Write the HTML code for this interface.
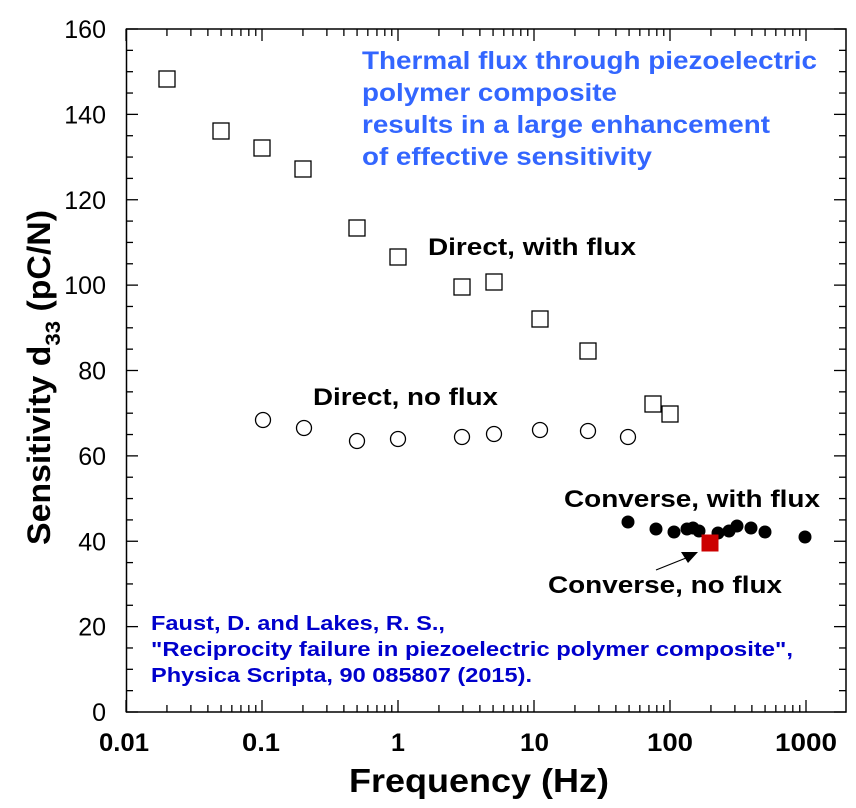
<!DOCTYPE html>
<html><head><meta charset="utf-8"><style>
html,body{margin:0;padding:0;background:#fff}
svg{display:block}
text{font-family:"Liberation Sans",Arial,sans-serif}
</style></head><body>
<svg width="856" height="808" viewBox="0 0 856 808" xmlns="http://www.w3.org/2000/svg">
<g stroke="#000" stroke-width="1.5" fill="none">
<rect x="126.5" y="29" width="719.5" height="683"/>
</g>
<g id="ticks" stroke="#000" stroke-width="1.3"></g>
<g font-size="25" fill="#000" text-anchor="end" id="ylab"></g>
<g font-size="25" font-weight="bold">
<text x="99" y="751" textLength="50" lengthAdjust="spacingAndGlyphs">0.01</text>
<text x="242" y="751" textLength="38" lengthAdjust="spacingAndGlyphs">0.1</text>
<text x="391" y="751">1</text>
<text x="520" y="751" textLength="29" lengthAdjust="spacingAndGlyphs">10</text>
<text x="647" y="751" textLength="46" lengthAdjust="spacingAndGlyphs">100</text>
<text x="775" y="751" textLength="62" lengthAdjust="spacingAndGlyphs">1000</text>
</g>
<text x="349" y="792" font-size="33" font-weight="bold" textLength="260" lengthAdjust="spacingAndGlyphs">Frequency (Hz)</text>
<text transform="translate(50,545) rotate(-90)" font-size="32" font-weight="bold" textLength="335" lengthAdjust="spacingAndGlyphs">Sensitivity d<tspan font-size="21" dy="10">33</tspan><tspan dy="-10"> (pC/N)</tspan></text>
<g fill="#3366ff" font-size="25" font-weight="bold">
<text x="362" y="69" textLength="455" lengthAdjust="spacingAndGlyphs">Thermal flux through piezoelectric</text>
<text x="362" y="101" textLength="255" lengthAdjust="spacingAndGlyphs">polymer composite</text>
<text x="362" y="133" textLength="408" lengthAdjust="spacingAndGlyphs">results in a large enhancement</text>
<text x="362" y="165" textLength="290" lengthAdjust="spacingAndGlyphs">of effective sensitivity</text>
</g>
<g fill="#000" font-size="24" font-weight="bold">
<text x="428" y="255" textLength="208" lengthAdjust="spacingAndGlyphs">Direct, with flux</text>
<text x="313" y="405" textLength="185" lengthAdjust="spacingAndGlyphs">Direct, no flux</text>
<text x="564" y="507" textLength="256" lengthAdjust="spacingAndGlyphs">Converse, with flux</text>
<text x="548" y="593" textLength="234" lengthAdjust="spacingAndGlyphs">Converse, no flux</text>
</g>
<g fill="#0000cc" font-size="20" font-weight="bold">
<text x="151" y="630" textLength="294" lengthAdjust="spacingAndGlyphs">Faust, D. and Lakes, R. S.,</text>
<text x="151" y="656" textLength="642" lengthAdjust="spacingAndGlyphs">"Reciprocity failure in piezoelectric polymer composite",</text>
<text x="151" y="682" textLength="381" lengthAdjust="spacingAndGlyphs">Physica Scripta, 90 085807 (2015).</text>
</g>
<g fill="none" stroke="#000" stroke-width="1.3" id="sq"></g>
<g fill="#fff" stroke="#000" stroke-width="1.3" id="ci"></g>
<g fill="#000" id="dots"></g>
<rect x="701.5" y="534.5" width="17" height="17" fill="#cc0000"/>
<line x1="656" y1="570" x2="686" y2="558" stroke="#000" stroke-width="1.2"/>
<polygon points="698,552 681,552 688,563" fill="#000"/>
<script>
var ns="http://www.w3.org/2000/svg";
function el(p,t,a){var e=document.createElementNS(ns,t);for(var k in a)e.setAttribute(k,a[k]);document.getElementById(p).appendChild(e);return e;}
var X0=126,X1=846,Y0=712,Y1=29;
for(var v=0;v<=160;v+=5){var y=712-v*683/160;var L=(v%20==0)?12:7;
 el("ticks","line",{x1:X0,y1:y,x2:X0+L,y2:y});el("ticks","line",{x1:X1,y1:y,x2:X1-L,y2:y});
 if(v%20==0){var t=el("ylab","text",{x:106,y:y+9});t.textContent=v;}}
for(var d=-2;d<=3;d++){for(var m=1;m<=9;m++){var x=126+136*(d+2+Math.log10(m));if(x>X1)break;var L=(m==1)?12:7;
 el("ticks","line",{x1:x,y1:Y0,x2:x,y2:Y0-L});el("ticks","line",{x1:x,y1:Y1,x2:x,y2:Y1+L});}}
[[167,79],[221,131],[262,148],[303,169],[357,228],[398,257],[462,287],[494,282],[540,319],[588,351],[653,404],[670,414]].forEach(function(p){el("sq","rect",{x:p[0]-8,y:p[1]-8,width:16,height:16});});
[[263,420],[304,428],[357,441],[398,439],[462,437],[494,434],[540,430],[588,431],[628,437]].forEach(function(p){el("ci","circle",{cx:p[0],cy:p[1],r:7.5});});
[[628,522],[656,529],[674,532],[687,529],[693,528],[699,531],[718,533],[729,531],[737,526],[751,528],[765,532],[805,537]].forEach(function(p){el("dots","circle",{cx:p[0],cy:p[1],r:6.5});});
</script>
</svg>
</body></html>
